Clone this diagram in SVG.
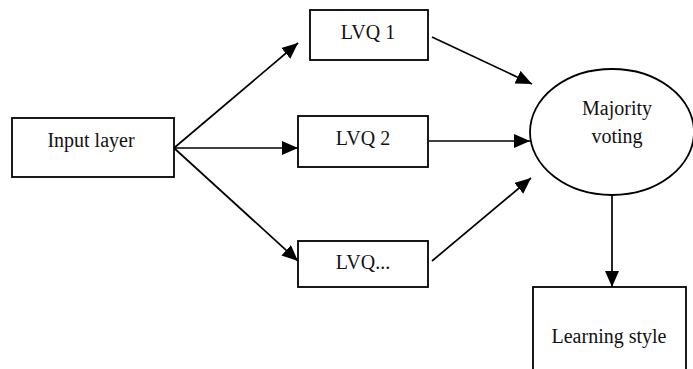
<svg xmlns="http://www.w3.org/2000/svg" width="693" height="369" viewBox="0 0 693 369">
<style>
  .box { fill: #fff; stroke: #000; stroke-width: 1.8; }
  .lbl { font-family: "Liberation Serif", "Times New Roman", serif; font-size: 20px; fill: #111; text-anchor: middle; }
  .conn { stroke: #000; stroke-width: 1.7; fill: none; marker-end: url(#arrow); }
</style>
<defs>
  <marker id="arrow" markerUnits="userSpaceOnUse" markerWidth="17" markerHeight="15" refX="16" refY="7" orient="auto">
    <path d="M0,0 L16,7 L0,14 Z" fill="#000"/>
  </marker>
</defs>
<rect width="693" height="369" fill="#fff"/>
<g id="connectors">
  <line class="conn" x1="174" y1="148" x2="298" y2="43"/>
  <line class="conn" x1="174" y1="148" x2="298" y2="148"/>
  <line class="conn" x1="174" y1="148" x2="298" y2="261"/>
  <line class="conn" x1="432" y1="37" x2="532" y2="84"/>
  <line class="conn" x1="429" y1="141" x2="530" y2="141"/>
  <line class="conn" x1="432" y1="261" x2="531" y2="178"/>
  <line class="conn" x1="612" y1="195" x2="612" y2="287"/>
</g>
<g id="input">
  <rect class="box" x="12" y="118" width="162" height="59"/>
  <text class="lbl" x="91" y="147">Input layer</text>
</g>
<g id="lvq1">
  <rect class="box" x="310" y="10" width="118" height="50"/>
  <text class="lbl" x="368" y="39">LVQ 1</text>
</g>
<g id="lvq2">
  <rect class="box" x="298" y="116" width="130" height="51"/>
  <text class="lbl" x="363" y="145">LVQ 2</text>
</g>
<g id="lvqn">
  <rect class="box" x="298" y="241" width="130" height="46"/>
  <text class="lbl" x="363" y="269">LVQ...</text>
</g>
<g id="voting">
  <ellipse class="box" cx="612" cy="132" rx="82" ry="63"/>
  <text class="lbl" x="617" y="115">Majority</text>
  <text class="lbl" x="617" y="143">voting</text>
</g>
<g id="style">
  <rect class="box" x="533" y="287" width="153" height="95"/>
  <text class="lbl" x="609" y="343">Learning style</text>
</g>
</svg>
